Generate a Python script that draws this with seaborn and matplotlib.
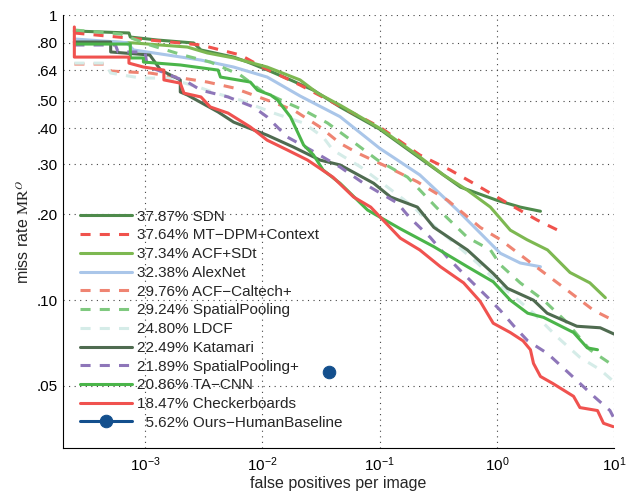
import numpy as np
import matplotlib
matplotlib.use("Agg")
import matplotlib.pyplot as plt
import seaborn as sns

sns.set_style("white")
plt.rcParams['font.family'] = ['Liberation Sans', 'DejaVu Sans']
plt.rcParams['mathtext.fontset'] = 'custom'
plt.rcParams['mathtext.rm'] = 'Liberation Sans'
plt.rcParams['mathtext.it'] = 'Liberation Sans:italic'

# curves: false positives per image / miss rate
sdn_fppi = [2.5e-4, 7.3e-4, 7.5e-4, 1.28e-3, 2.6e-3, 3.0e-3, 5.7e-3, 7.5e-3, 0.0111, 0.0174,
            0.0273, 0.046, 0.1, 0.22, 0.49, 1.0, 1.58, 2.35]
sdn_mr = [0.879, 0.865, 0.837, 0.817, 0.798, 0.754, 0.712, 0.684, 0.641, 0.592,
          0.545, 0.476, 0.398, 0.315, 0.249, 0.224, 0.212, 0.205]

mtdpm_fppi = [2.5e-4, 1.1e-3, 3.0e-3, 6.5e-3, 0.01, 0.021, 0.046, 0.1, 0.22, 0.40,
              0.6, 1.0, 1.3, 2.2, 3.7]
mtdpm_mr = [0.865, 0.817, 0.785, 0.724, 0.657, 0.568, 0.479, 0.405, 0.323, 0.286,
            0.26, 0.23, 0.216, 0.191, 0.172]

acfsdt_fppi = [2.5e-4, 5.1e-4, 8.0e-4, 2.3e-3, 3.4e-3, 5.7e-3, 0.011, 0.021, 0.0296, 0.046,
               0.1, 0.22, 0.35, 0.56, 0.88, 1.3, 1.8, 2.7, 4.2, 6.2, 8.4]
acfsdt_mr = [0.804, 0.804, 0.798, 0.772, 0.736, 0.707, 0.657, 0.592, 0.532, 0.483,
             0.401, 0.318, 0.275, 0.243, 0.212, 0.176, 0.163, 0.150, 0.125, 0.115, 0.102]

alexnet_fppi = [2.5e-4, 7.0e-4, 8.0e-4, 1.56e-3, 3.0e-3, 5.7e-3, 0.011, 0.021, 0.046, 0.1,
                0.22, 0.46, 0.72, 1.07, 1.58, 2.35]
alexnet_mr = [0.824, 0.80, 0.754, 0.724, 0.695, 0.657, 0.606, 0.52, 0.44, 0.341,
              0.275, 0.207, 0.172, 0.146, 0.135, 0.131]

acfcal_fppi = [2.5e-4, 4.6e-4, 5.1e-4, 1.1e-3, 3.4e-3, 5.7e-3, 0.011, 0.0185, 0.031, 0.046,
               0.065, 0.117, 0.21, 0.38, 0.72, 1.07, 2.05, 3.9, 6.7, 9.8]
acfcal_mr = [0.673, 0.673, 0.636, 0.626, 0.582, 0.555, 0.503, 0.464, 0.405, 0.355,
             0.328, 0.293, 0.260, 0.224, 0.180, 0.163, 0.133, 0.109, 0.092, 0.085]

sp_fppi = [2.5e-4, 6.2e-4, 1.1e-3, 2.1e-3, 3.6e-3, 6.5e-3, 0.01, 0.0164, 0.0225, 0.036,
           0.057, 0.096, 0.173, 0.31, 0.56, 0.88, 1.07, 1.58, 2.5, 3.9, 6.2, 9.8]
sp_mr = [0.886, 0.858, 0.785, 0.724, 0.684, 0.616, 0.54, 0.491, 0.464, 0.418,
         0.364, 0.310, 0.270, 0.210, 0.166, 0.150, 0.133, 0.115, 0.100, 0.084, 0.067, 0.059]

ldcf_fppi = [2.5e-4, 4.6e-4, 5.1e-4, 9.2e-4, 1.56e-3, 3.0e-3, 4.0e-3, 6.5e-3, 0.0125, 0.0225,
             0.033, 0.040, 0.069, 0.117, 0.195, 0.254, 0.40, 0.68, 1.07, 2.05, 3.3, 5.1, 7.6, 9.8]
ldcf_mr = [0.678, 0.678, 0.626, 0.601, 0.601, 0.555, 0.532, 0.503, 0.453, 0.418,
           0.373, 0.336, 0.293, 0.249, 0.212, 0.191, 0.163, 0.135, 0.113, 0.090, 0.074, 0.063, 0.057, 0.052]

kat_fppi = [2.5e-4, 5.1e-4, 5.1e-4, 1.1e-3, 1.36e-3, 2.0e-3, 2.0e-3, 2.3e-3, 4.2e-3, 5.7e-3,
            0.011, 0.0185, 0.031, 0.046, 0.089, 0.124, 0.21, 0.29, 0.56, 0.93, 1.23, 2.05, 2.68, 4.8, 7.6, 10]
kat_mr = [0.804, 0.804, 0.742, 0.724, 0.641, 0.592, 0.537, 0.524, 0.457, 0.421,
          0.379, 0.344, 0.310, 0.298, 0.257, 0.230, 0.212, 0.180, 0.150, 0.124, 0.110, 0.100, 0.090, 0.081, 0.080, 0.076]

spp_fppi = [2.5e-4, 5.6e-4, 5.9e-4, 1.0e-3, 1.05e-3, 1.28e-3, 2.3e-3, 3.0e-3, 5.1e-3, 8.4e-3,
            0.011, 0.0164, 0.026, 0.046, 0.073, 0.102, 0.142, 0.18, 0.27, 0.38,
            0.56, 0.84, 1.07, 1.4, 1.83, 2.7, 4.2, 6.7, 9.2, 9.8]
spp_mr = [0.785, 0.785, 0.742, 0.742, 0.657, 0.641, 0.582, 0.545, 0.516, 0.476,
          0.439, 0.373, 0.336, 0.293, 0.257, 0.237, 0.219, 0.195, 0.166, 0.141,
          0.120, 0.102, 0.092, 0.081, 0.072, 0.065, 0.055, 0.046, 0.041, 0.039]

tacnn_fppi = [2.5e-4, 7.5e-4, 7.5e-4, 9.7e-4, 9.7e-4, 2.0e-3, 4.2e-3, 4.4e-3, 7.9e-3, 9.1e-3,
              0.0118, 0.0135, 0.0174, 0.0225, 0.0273, 0.033, 0.046, 0.079, 0.15, 0.29,
              0.56, 0.93, 1.3, 1.83, 2.5, 4.5, 5.9, 7.2]
tacnn_mr = [0.791, 0.791, 0.707, 0.707, 0.684, 0.668, 0.641, 0.606, 0.582, 0.545,
            0.524, 0.503, 0.439, 0.350, 0.323, 0.286, 0.257, 0.207, 0.178, 0.154,
            0.131, 0.116, 0.100, 0.090, 0.087, 0.077, 0.068, 0.067]

chk_fppi = [2.5e-4, 2.5e-4, 7.3e-4, 7.3e-4, 9.7e-4, 1.45e-3, 1.45e-3, 2.0e-3, 2.15e-3, 3.0e-3,
            3.6e-3, 5.1e-3, 7.9e-3, 0.011, 0.0164, 0.0243, 0.040, 0.060, 0.084, 0.15,
            0.22, 0.33, 0.52, 0.72, 0.93, 1.3, 1.67, 1.93, 2.05, 2.35,
            3.0, 4.5, 5.1, 7.2, 8.1, 9.8]
chk_mr = [0.908, 0.712, 0.712, 0.678, 0.657, 0.641, 0.592, 0.577, 0.532, 0.516,
          0.476, 0.453, 0.405, 0.364, 0.336, 0.310, 0.270, 0.230, 0.212, 0.165,
          0.150, 0.131, 0.115, 0.099, 0.083, 0.077, 0.072, 0.067, 0.060, 0.054,
          0.051, 0.046, 0.042, 0.041, 0.037, 0.036]

ours_fppi = [0.037]
ours_mr = [0.056]

labels = ["37.87% SDN", "37.64% MT\u2212DPM+Context", "37.34% ACF+SDt", "32.38% AlexNet",
          "29.76% ACF\u2212Caltech+", "29.24% SpatialPooling", "24.80% LDCF", "22.49% Katamari",
          "21.89% SpatialPooling+", "20.86% TA\u2212CNN", "18.47% Checkerboards"]
colors = ["#4e8a4b", "#f0524c", "#7db851", "#aac6e9", "#ef8472", "#7fc97f",
          "#d5ece8", "#4f6b50", "#8e76b9", "#4bb54a", "#f0524f"]
dashed = [False, True, False, False, True, True, True, False, True, False, False]
curves = [(sdn_fppi, sdn_mr), (mtdpm_fppi, mtdpm_mr), (acfsdt_fppi, acfsdt_mr),
          (alexnet_fppi, alexnet_mr), (acfcal_fppi, acfcal_mr), (sp_fppi, sp_mr),
          (ldcf_fppi, ldcf_mr), (kat_fppi, kat_mr), (spp_fppi, spp_mr),
          (tacnn_fppi, tacnn_mr), (chk_fppi, chk_mr)]

fig = plt.figure(figsize=(6.26, 4.94), dpi=100)
ax = fig.add_axes([0.1006, 0.0931, 0.8806, 0.8765])

for (fx, my), lab, col, ds in zip(curves, labels, colors, dashed):
    ls = (0, (3.3, 3.0)) if ds else '-'
    sns.lineplot(x=fx, y=my, ax=ax, color=col, linewidth=2.2, linestyle=ls,
                 sort=False, estimator=None, label=lab)

sns.lineplot(x=ours_fppi, y=ours_mr, ax=ax, color="#134f8d", linewidth=2.2,
             marker='o', markersize=9, markeredgecolor="#134f8d",
             sort=False, estimator=None, label="  5.62% Ours\u2212HumanBaseline")

ax.set_xscale('log')
ax.set_yscale('log')
ax.set_xlim(2e-4, 10)
ax.set_ylim(0.0303, 1)

yt = [0.05, 0.1, 0.2, 0.3, 0.4, 0.5, 0.64, 0.8, 1]
ytl = ['.05', '.10', '.20', '.30', '.40', '.50', '.64', '.80', '1']
ax.set_yticks(yt)
ax.set_yticklabels(ytl)
ax.set_xticks([1e-3, 1e-2, 1e-1, 1, 10])
ax.set_xticklabels(['$10^{-3}$', '$10^{-2}$', '$10^{-1}$', '$10^{0}$', '$10^{1}$'])
ax.minorticks_off()
ax.tick_params(direction='in', length=4, width=0.8, colors='black', labelsize=11, pad=5)
ax.tick_params(axis='y', pad=4)

ax.grid(True, which='major', linestyle=(0, (1, 4)), color='#444444', linewidth=0.8)
sns.despine(ax=ax)
ax.spines['left'].set_color('black')
ax.spines['bottom'].set_color('black')

ax.set_xlabel('false positives per image', fontsize=11.5, labelpad=2)
ax.set_ylabel('miss rate $\\mathrm{MR}^{O}$', fontsize=11.5, math_fontfamily='stix', labelpad=3)

ax.legend(loc='lower left', bbox_to_anchor=(0.031, 0.042), frameon=False, fontsize=11,
          handlelength=3.4, handletextpad=0.35, labelspacing=0.31, borderpad=0,
          borderaxespad=0, numpoints=1)

fig.savefig("out.png", dpi=100)
